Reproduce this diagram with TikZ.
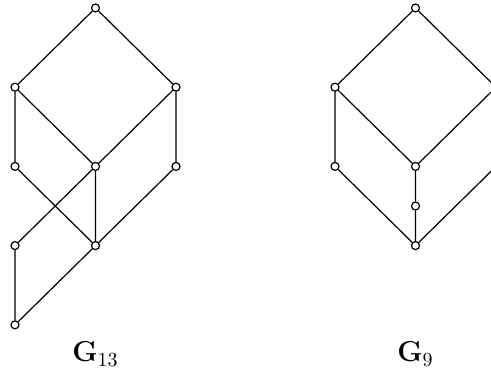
\documentclass[tikz,border=0pt]{standalone}
\tikzset{
    vtx/.style={circle, draw, fill=white, inner sep=0pt, minimum size=4pt}
}
\begin{document}
\begin{tikzpicture}[x=40.25pt, y=39.6pt, semithick]
            \useasboundingbox (-7.5pt,4pt) rectangle (238pt,-181pt);
            \begin{scope}
                \node[vtx] (t) at (1,0) {};
                \draw (0,-1) node[vtx] (a1) {}
                    ++(0,-1) node[vtx] (a2) {}
                    ++(0,-1) node[vtx] (a3) {}
                    ++(0,-1) node[vtx] (a4) {};
                \draw (1,-2) node[vtx] (b2) {}
                    ++(0,-1) node[vtx] (b3) {};
                \draw (2,-1) node[vtx] (c1) {}
                    ++(0,-1) node[vtx] (c2) {};
                \draw (t) -- (a1) (t) -- (c1);
                \draw (a1) -- (a2) (a1) -- (b2);
                \draw (c1) -- (b2) (c1) -- (c2);
                \draw (a2) -- (b3) (b2) -- (a3) (b2) -- (b3);
                \draw (c2) -- (b3) (a3) -- (a4) (b3) -- (a4);
                \node[font=\Large] (g13) at (1,-4.37) {$\mathbf{G}_{13}$};
            \end{scope}
            \begin{scope}[xshift=160pt]
                \node[vtx] (s) at (1,0) {};
                \draw (0,-1) node[vtx] (p1) {}
                    ++(0,-1) node[vtx] (p2) {};
                \draw (1,-2) node[vtx] (q2) {}
                    ++(0,-0.5) node[vtx] (q3) {}
                    ++(0,-0.5) node[vtx] (q4) {};
                \node[vtx] (r1) at (2,-1) {};
                \draw (s) -- (p1) (s) -- (r1);
                \draw (p1) -- (p2) (p1) -- (q2) (r1) -- (q2);
                \draw (q2) -- (q3) (q3) -- (q4) (p2) -- (q4);
                \draw (q4) -- (2,-2);
                \node[font=\Large] (g9) at (1,-4.37) {$\mathbf{G}_{9}$};
            \end{scope}
        \end{tikzpicture}
\end{document}
